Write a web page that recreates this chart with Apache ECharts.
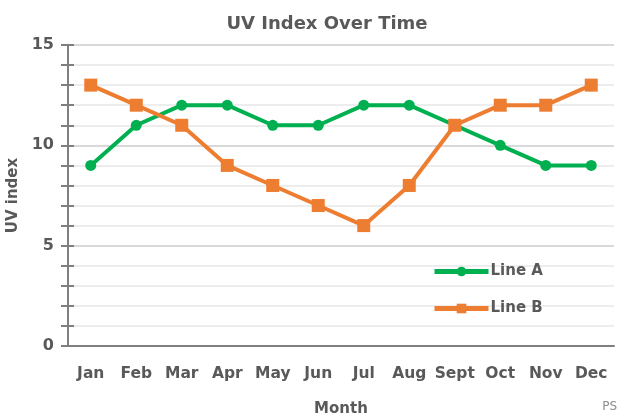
<!DOCTYPE html>
<html>
<head>
<meta charset="utf-8">
<script src="https://cdn.jsdelivr.net/npm/echarts@6/dist/echarts.min.js"></script>
<style>
    html,body{margin:0;padding:0;background:#fff;}
    #chart{width:621px;height:417px;}
</style>
</head>
<body>
<div id="chart"></div>
<script>
const months = ["Jan","Feb","Mar","Apr","May","Jun","Jul","Aug","Sept","Oct","Nov","Dec"]
const lineA = [9,11,12,12,11,11,12,12,11,10,9,9]
const lineB = [13,12,11,9,8,7,6,8,11,12,12,13]
const yLabels = [0,5,10,15]

const textColor = "#595959"
const font = "DejaVu Sans"

const chart = echarts.init(document.getElementById("chart"))

// major lines at 0,5,10,15 a bit darker
const gridColors = ["#d9d9d9","#ededed","#ededed","#ededed","#ededed"]

const option = {
    animation:false,
    title:{
        text:"UV Index Over Time",
        left:322,
        textAlign:"center",
        top:10,
        textStyle:{color:textColor,fontFamily:font,fontWeight:"bold",fontSize:18}
    },
    grid:{left:68,right:7,top:45,bottom:71,outerBoundsMode:"none"},
    legend:{
        orient:"vertical",
        left:427,
        top:259,
        itemWidth:54,
        itemHeight:12,
        itemGap:22,
        lineStyle:{width:5},
        textStyle:{color:textColor,fontFamily:font,fontWeight:"bold",fontSize:15,padding:[0,0,0,-3]},
        data:["Line A","Line B"]
    },
    graphic:[{
        type:"text",
        right:4,
        bottom:4,
        style:{text:"PS",fill:"#8c8c8c",font:"12px "+font}
    }],
    xAxis:{
        type:"category",
        data:months,
        name:"Month",
        nameLocation:"middle",
        nameGap:56,
        nameTextStyle:{color:textColor,fontFamily:font,fontWeight:"bold",fontSize:15},
        axisLine:{lineStyle:{color:"#7f7f7f",width:2}},
        axisTick:{alignWithLabel:true,length:6,lineStyle:{color:"#7f7f7f",width:2}},
        axisLabel:{interval:0,color:textColor,fontFamily:font,fontWeight:"bold",fontSize:15.5,margin:20}
    },
    yAxis:[{
        type:"value",
        min:0,
        max:15,
        interval:1,
        name:"UV index",
        nameLocation:"middle",
        nameGap:40,
        nameTextStyle:{color:textColor,fontFamily:font,fontWeight:"bold",fontSize:15},
        axisLine:{show:true,lineStyle:{color:"#7f7f7f",width:2}},
        axisTick:{show:true,length:7,lineStyle:{color:"#7f7f7f",width:2}},
        axisLabel:{
            color:textColor,fontFamily:font,fontWeight:"bold",fontSize:16,margin:14,
            formatter:v => yLabels.includes(v) ? String(v) : ""
        },
        splitLine:{lineStyle:{color:gridColors,width:2}}
    },{
        type:"value",
        min:0,
        max:15,
        interval:1,
        position:"left",
        axisLine:{show:false},
        axisTick:{show:true,inside:true,length:6,lineStyle:{color:"#7f7f7f",width:2}},
        axisLabel:{show:false},
        splitLine:{show:false}
    }],
    series:[{
        name:"Line A",
        type:"line",
        data:lineA,
        symbol:"circle",
        symbolSize:11,
        lineStyle:{color:"#00b050",width:4},
        itemStyle:{color:"#00b050"}
    },{
        name:"Line B",
        type:"line",
        data:lineB,
        symbol:"rect",
        symbolSize:13,
        lineStyle:{color:"#ed7d31",width:4},
        itemStyle:{color:"#ed7d31"}
    }]
}

chart.setOption(option)
</script>
</body>
</html>
